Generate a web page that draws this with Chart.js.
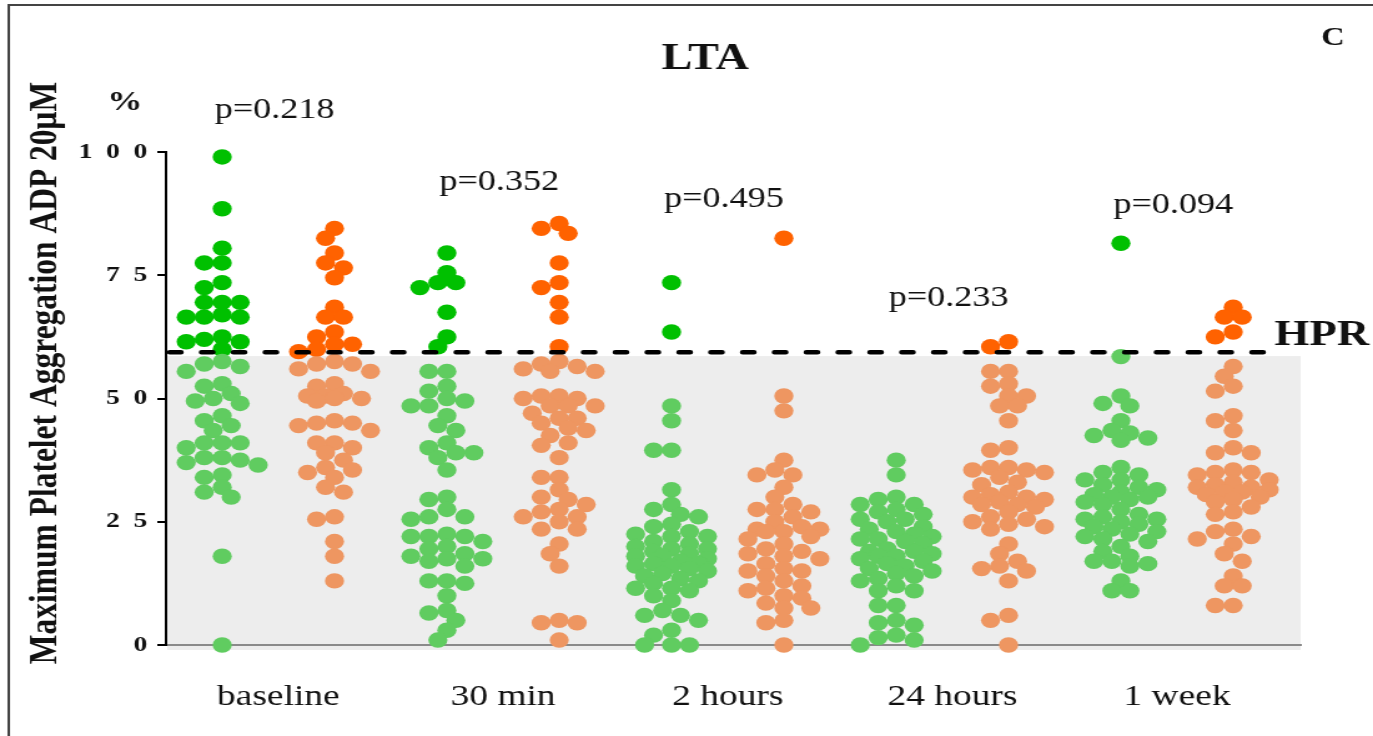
<!DOCTYPE html>
<html>
<head>
<meta charset="utf-8">
<script src="https://cdn.jsdelivr.net/npm/chart.js@4.4.1/dist/chart.umd.min.js"></script>
<style>
  html, body { margin: 0; padding: 0; background: #fff; overflow: hidden; }
</style>
</head>
<body>
<!-- the reference is stretched sideways, so the bitmap is drawn narrower and widened by css -->
<canvas id="chart" width="1100" height="736" style="width:1373px;height:736px;"></canvas>
<script>
const categories = ['baseline', '30 min', '2 hours', '24 hours', '1 week'];
const pLabels = ['p=0.218', 'p=0.352', 'p=0.495', 'p=0.233', 'p=0.094'];
const yTicks = [0, 25, 50, 75, 100];
const hprValue = 59.4;

const greenBaseline = [99, 88.5, 80.5, 77.5, 77.5, 73.5, 72.5, 69.5, 69.5, 69.5, 67, 66.5, 66.5, 66.5, 62.5, 62, 61.5, 61.5, 60,
  57.5, 57, 56.5, 55.5, 53, 52.5, 51, 50, 49.5, 49, 46.5, 45.5, 44.5, 43.5, 41, 41, 41, 40, 38, 38, 37.5, 37, 36.5, 34.5, 34, 32, 31, 30, 18, 0];
const orangeBaseline = [84.5, 82.5, 79.5, 77.5, 76.5, 74.5, 68.5, 66.5, 66.5, 63.5, 62.5, 61, 61, 60, 59.5,
  57.5, 57, 57, 56, 55.5, 53, 52.5, 51, 50.5, 50.5, 50, 50, 49.5, 45.5, 45, 45, 44.5, 43.5, 41, 41, 40, 39, 37.5, 36, 35.5, 35, 34, 32, 31, 26, 25.5, 21, 18, 13];
const green30min = [79.5, 75.5, 73.5, 73.5, 72.5, 67.5, 62.5, 60.5, 55.5, 55.5, 52.5, 51.5, 50, 49.5, 48.5, 48.5, 46.5, 44.5, 43.5, 41, 40, 39, 39, 38, 35.5,
  30, 29.5, 27.5, 26, 26, 25.5, 22.5, 22, 22, 22, 21, 20, 19.5, 18.5, 18, 17.5, 17.5, 17, 16, 13, 12.5, 13, 10, 7, 6.5, 5, 3, 1];
const orange30min = [85.5, 84.5, 83.5, 77.5, 73.5, 72.5, 69.5, 66.5, 60.5, 57.5, 57, 56.5, 56, 55.5, 55.5, 50.5, 50.5, 50, 50, 48.5, 48.5, 48.5, 47, 46, 46,
  45, 44, 43.5, 42.5, 41, 40.5, 38, 34, 34, 31.5, 30, 29.5, 28.5, 27.5, 27, 26, 26, 25, 23.5, 23.5, 20.5, 18.5, 16, 5, 4.5, 4.5, 1];
const green2h = [73.5, 63.5, 48.5, 45.5, 39.5, 39.5, 31.5, 28.5, 27.5, 26.5, 26, 24.5, 24, 23, 22.5, 22, 22, 21, 20.5, 20, 19.5, 19.5, 19, 18.5, 18, 18,
  17.5, 17, 16.5, 16.5, 16, 16, 15.5, 15, 14.5, 14, 13.5, 13, 12.5, 11.5, 11.5, 11, 10, 9, 7, 6, 6, 5, 3, 2, 0, 0, 0];
const orange2h = [82.5, 50.5, 47.5, 37.5, 35.5, 34.5, 34.5, 32, 30, 28.5, 27.5, 27.5, 27, 26, 25, 24, 23.5, 23.5, 23, 23, 22, 21.5, 20.5, 19.5, 19,
  18.5, 18, 17.5, 16.5, 15.5, 15, 15, 14, 13, 12, 11.5, 11, 10, 9.5, 8.5, 7.5, 7.5, 5, 4.5, 0];
const green24h = [37.5, 34.5, 30, 29.5, 28.5, 28.5, 27.5, 27, 26.5, 25.5, 25.5, 25, 24, 23.5, 23, 22.5, 22, 21.5, 21.5, 21, 20.5, 19.5, 19, 19, 18.5,
  18, 18, 17.5, 17, 16.5, 16, 15.5, 15, 14.5, 14, 13.5, 13, 12, 11, 11, 8, 8, 5, 4.5, 4, 2, 1.5, 1, 0];
const orange24h = [61.5, 60.5, 55.5, 55.5, 53, 52.5, 50.5, 50.5, 48.5, 48.5, 45.5, 40, 39.5, 36, 36, 35.5, 35.5, 35, 34, 33, 32.5, 31, 30.5, 30, 30,
  29.5, 29, 28.5, 28.5, 28, 27, 26, 25.5, 25, 24.5, 24, 23.5, 20.5, 18.5, 17, 16, 15.5, 15, 13, 6, 5, 0];
const green1w = [81.5, 58.5, 50.5, 49, 48.5, 45.5, 43.5, 43, 42.5, 42, 41.5, 36, 35, 34.5, 33.5, 33.5, 32.5, 32, 31.5, 31, 30.5, 30, 30, 29.5, 29,
  28.5, 27.5, 26.5, 26, 25.5, 25.5, 25, 24.5, 24, 23.5, 23, 22.5, 22, 21.5, 21, 20, 19, 18, 17, 17, 16.5, 16, 13, 11, 11];
const orange1w = [68.5, 66.5, 66.5, 63.5, 62.5, 56.5, 54.5, 52.5, 51.5, 46.5, 45.5, 43.5, 40, 39, 39, 35.5, 35, 35, 34.5, 33.5, 33, 32.5, 32, 32, 31.5,
  31, 31, 30.5, 30, 29.5, 29, 28, 27, 26.5, 23.5, 23, 22, 21.5, 20.5, 18.5, 17, 14, 12, 12, 8, 8];

const greenGroups = [greenBaseline, green30min, green2h, green24h, green1w];
const orangeGroups = [orangeBaseline, orange30min, orange2h, orange24h, orange1w];

// spread equal-ish values sideways so the dots sit side by side
function swarm(values, center) {
  const step = 0.04, maxK = 4, gapX = 0.066, gapY = 2.5;
  const placed = [];
  const sorted = values.slice().sort((a, b) => b - a);
  for (const v of sorted) {
    let best = 0, bestD = -1;
    for (let k = 0; k <= maxK * 2; k++) {
      const off = (k % 2 ? -1 : 1) * Math.ceil(k / 2) * step;
      let dmin = Infinity;
      for (const q of placed) {
        const dx = (q.x - (center + off)) / gapX;
        const dy = (q.y - v) / gapY;
        dmin = Math.min(dmin, Math.hypot(dx, dy));
      }
      if (dmin >= 1) { best = off; break; }
      if (dmin > bestD) { bestD = dmin; best = off; }
    }
    placed.push({x: center + best, y: v});
  }
  return placed;
}

const greenPoints = greenGroups.flatMap((g, i) => swarm(g, i + 1 - 0.25));
const orangePoints = orangeGroups.flatMap((g, i) => swarm(g, i + 1 + 0.25));

const serif = "'Liberation Serif', 'Times New Roman', serif";

const decor = {
  id: 'decor',
  beforeDraw(chart) {
    const {ctx, chartArea: a, scales: {y}} = chart;
    ctx.save();
    ctx.fillStyle = '#fff';
    ctx.fillRect(0, 0, chart.width, chart.height);
    ctx.fillStyle = '#ededed';
    const top = y.getPixelForValue(58.6);
    ctx.fillRect(a.left + 1, top, a.right - a.left - 1, a.bottom + 5 - top);
    ctx.restore();
  },
  afterDatasetsDraw(chart) {
    const {ctx, chartArea: a, scales: {y}} = chart;
    const py = y.getPixelForValue(hprValue);
    ctx.save();
    ctx.strokeStyle = '#000';
    ctx.lineWidth = 4.5;
    ctx.lineCap = 'round';
    ctx.setLineDash([9, 16.5]);
    ctx.beginPath();
    ctx.moveTo(a.left + 3, py);
    ctx.lineTo(a.right - 16, py);
    ctx.stroke();
    ctx.restore();
  },
  afterDraw(chart) {
    const {ctx, scales: {x, y}} = chart;
    ctx.save();
    // frame
    ctx.strokeStyle = '#444';
    ctx.lineWidth = 2;
    ctx.strokeRect(7, 5, chart.width + 10, chart.height + 10);

    ctx.fillStyle = '#111';
    ctx.textAlign = 'center';
    ctx.textBaseline = 'alphabetic';
    ctx.font = 'bold 37px ' + serif;
    ctx.fillText('LTA', 565, 69);
    ctx.font = 'bold 26px ' + serif;
    ctx.fillText('C', 1068, 45);
    ctx.font = 'bold 28px ' + serif;
    ctx.fillText('%', 100, 110);
    ctx.textAlign = 'left';
    ctx.font = 'bold 36px ' + serif;
    ctx.fillText('HPR', 1021, 345);

    // p values above each time point
    const pHeights = [108.4, 93.9, 90.3, 70.4, 89.2];
    ctx.textAlign = 'center';
    ctx.textBaseline = 'middle';
    ctx.font = '29px ' + serif;
    pLabels.forEach((t, i) => {
      ctx.fillText(t, x.getPixelForValue(i + 1) - 3, y.getPixelForValue(pHeights[i]));
    });

    // y axis title
    ctx.translate(37, 373);
    ctx.rotate(-Math.PI / 2);
    ctx.font = 'bold 31.5px ' + serif;
    ctx.fillText('Maximum Platelet Aggregation ADP 20\u03bcM', 0, 0);
    ctx.restore();
  }
};

const dotColor = (dark, light) => (c) => (c.raw && c.raw.y >= 59 ? dark : light);

new Chart(document.getElementById('chart'), {
  type: 'scatter',
  data: {
    datasets: [{
      data: greenPoints,
      pointRadius: 7.7,
      pointBorderWidth: 0,
      pointBackgroundColor: dotColor('#00c000', '#60cc60'),
      clip: false,
    }, {
      data: orangePoints,
      pointRadius: 7.7,
      pointBorderWidth: 0,
      pointBackgroundColor: dotColor('#ff6200', '#ee9661'),
      clip: false,
    }]
  },
  options: {
    responsive: false,
    animation: false,
    events: [],
    layout: {padding: {top: 152, right: 58, left: 0, bottom: 0}},
    plugins: {
      legend: {display: false},
      tooltip: {enabled: false}
    },
    scales: {
      x: {
        type: 'linear',
        min: 0.5,
        max: 5.55,
        afterBuildTicks: (s) => { s.ticks = categories.map((c, i) => ({value: i + 1})); },
        afterFit: (s) => { s.height = 91; },
        grid: {display: false, drawTicks: false},
        border: {color: '#8a8a8a', width: 2},
        ticks: {
          autoSkip: false,
          maxRotation: 0,
          padding: 34,
          color: '#111',
          font: {family: serif, size: 30},
          callback: (v) => categories[v - 1] || ''
        }
      },
      y: {
        min: 0,
        max: 100,
        afterBuildTicks: (s) => { s.ticks = yTicks.map(v => ({value: v})); },
        afterFit: (s) => { s.width = 133; },
        grid: {drawOnChartArea: false, color: '#000', lineWidth: 2, tickLength: 7},
        border: {color: '#000', width: 2},
        ticks: {
          padding: 8,
          color: '#111',
          font: {family: serif, size: 22, weight: 'bold'},
          callback: (v) => String(v).split('').join('\u2002')
        }
      }
    }
  },
  plugins: [decor]
});
</script>
</body>
</html>
